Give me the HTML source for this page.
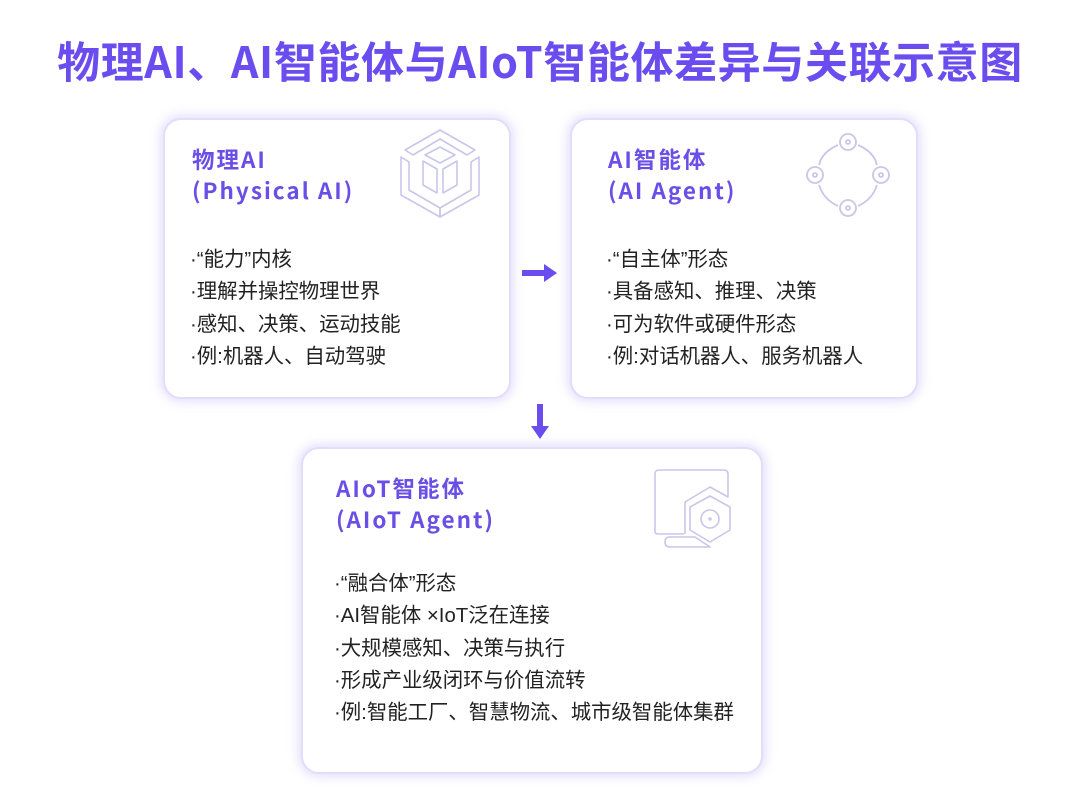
<!DOCTYPE html>
<html><head><meta charset="utf-8"><style>
body{margin:0;width:1080px;height:806px;background:#fff;position:relative;overflow:hidden;font-family:"Liberation Sans","Noto Sans CJK SC",sans-serif;}
.t{position:absolute;left:0;width:1080px;top:30px;text-align:center;font-size:43px;font-weight:bold;color:#6a4cef;letter-spacing:0.6px;font-family:"Noto Sans CJK SC",sans-serif;line-height:60px}
.c{position:absolute;background:#fff;border:2px solid #e3dcfb;border-radius:18px;box-shadow:0 0 10px 3px rgba(150,130,240,0.25);box-sizing:border-box}
.h{position:absolute;font-size:22.5px;font-weight:bold;color:#6a4fe6;line-height:31px;font-family:"Noto Sans CJK SC",sans-serif;letter-spacing:2px}
.b{position:absolute;font-size:20.4px;color:#222;line-height:32.3px;white-space:nowrap}
svg{position:absolute}
</style></head><body>
<div class="t">物理AI、AI智能体与AIoT智能体差异与关联示意图</div>

<div class="c" style="left:163px;top:118px;width:348px;height:281px"></div>
<div class="h" style="left:192px;top:144px">物理AI<br>(Physical AI)</div>
<div class="b" style="left:190px;top:244px">·“能力”内核<br>·理解并操控物理世界<br>·感知、决策、运动技能<br>·例:机器人、自动驾驶</div>
<svg style="left:395px;top:125px" width="90" height="95" viewBox="0 0 90 95" fill="none" stroke="#c9c6ea" stroke-width="1.6" stroke-linejoin="round">
<path d="M45 5 L80 25 L72 30 L45 14 L18 30 L10 25 Z"/>
<path d="M45 22 L60 30 L45 38 L30 30 Z"/>
<path d="M6 32 L14 37 L14 65 L45 83 L45 92 L6 70 Z"/>
<path d="M84 32 L76 37 L76 65 L45 83 L45 92 L84 70 Z"/>
<path d="M28 36 L42 44 L42 68 L28 60 Z"/><path d="M62 36 L48 44 L48 68 L62 60 Z"/>
</svg>

<div class="c" style="left:570px;top:118px;width:348px;height:281px"></div>
<div class="h" style="left:608px;top:144px">AI智能体<br>(AI Agent)</div>
<div class="b" style="left:606px;top:244px">·“自主体”形态<br>·具备感知、推理、决策<br>·可为软件或硬件形态<br>·例:对话机器人、服务机器人</div>
<svg style="left:800px;top:128px" width="96" height="96" viewBox="0 0 96 96" fill="none" stroke="#c9c6ea" stroke-width="1.8">
<circle cx="48" cy="14" r="8"/><circle cx="48" cy="80" r="8"/><circle cx="15" cy="47" r="8"/><circle cx="81" cy="47" r="8"/>
<circle cx="48" cy="14" r="2"/><circle cx="48" cy="80" r="2"/><circle cx="15" cy="47" r="2"/><circle cx="81" cy="47" r="2"/>
<path d="M38 17 Q22 24 19 37"/><path d="M58 17 Q74 24 77 37"/><path d="M19 57 Q24 72 38 78"/><path d="M77 57 Q72 72 58 78"/>
</svg>

<div class="c" style="left:301px;top:447px;width:462px;height:327px"></div>
<div class="h" style="left:336px;top:473px">AIoT智能体<br>(AIoT Agent)</div>
<div class="b" style="left:334px;top:568px">·“融合体”形态<br>·AI智能体 ×IoT泛在连接<br>·大规模感知、决策与执行<br>·形成产业级闭环与价值流转<br>·例:智能工厂、智慧物流、城市级智能体集群</div>
<svg style="left:650px;top:462px" width="90" height="92" viewBox="0 0 90 92" fill="none" stroke="#c9c6ea" stroke-width="1.6" stroke-linejoin="round">
<path d="M34 72 L8 72 Q5 72 5 69 L5 12 Q5 8 9 8 L74 8 Q78 8 78 12 L78 35 L60 25 L35 40 L35 72"/>
<path d="M60 34 L80 45 L80 68 L60 80 L40 68 L40 45 Z"/>
<circle cx="60" cy="57" r="9"/><circle cx="60" cy="57" r="1"/>
<path d="M20 75 L45 75 L60 85 L20 85 Q15 85 15 80 Q15 75 20 75 Z"/>
</svg>

<svg style="left:520px;top:262px" width="40" height="22"><path d="M2 8 L24 8 L24 2 L37 11 L24 20 L24 14 L2 14 Z" fill="#6a4cef"/></svg>
<svg style="left:529px;top:402px" width="22" height="38"><path d="M8 2 L14 2 L14 24 L20 24 L11 37 L2 24 L8 24 Z" fill="#6a4cef"/></svg>
</body></html>
